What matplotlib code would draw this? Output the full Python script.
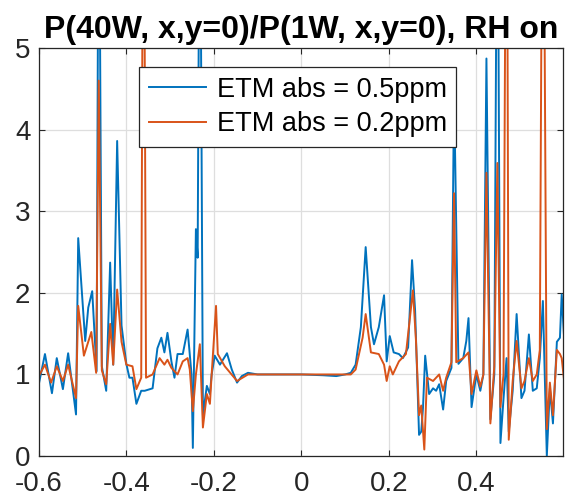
import matplotlib
matplotlib.use("Agg")
import matplotlib.pyplot as plt

plt.rcParams["font.family"] = ["Liberation Sans", "DejaVu Sans"]

# ETM abs = 0.5ppm
x_05 = [-0.602, -0.586, -0.570, -0.559, -0.545, -0.533, -0.515, -0.510, -0.494, -0.487,
        -0.478, -0.468, -0.463, -0.456, -0.446, -0.437, -0.430, -0.421, -0.411, -0.400,
        -0.393, -0.386, -0.377, -0.366, -0.358, -0.340, -0.329, -0.320, -0.313, -0.306,
        -0.297, -0.290, -0.283, -0.271, -0.260, -0.251, -0.248, -0.241, -0.237, -0.232,
        -0.225, -0.216, -0.209, -0.205, -0.198, -0.186, -0.170, -0.159, -0.147, -0.136,
        -0.122, -0.100, -0.050, 0.000, 0.050, 0.080, 0.100, 0.113, 0.124, 0.136,
        0.147, 0.159, 0.166, 0.177, 0.189, 0.195, 0.202, 0.211, 0.223, 0.232,
        0.244, 0.253, 0.260, 0.269, 0.274, 0.278, 0.283, 0.292, 0.301, 0.308,
        0.315, 0.324, 0.331, 0.343, 0.349, 0.359, 0.370, 0.377, 0.382, 0.389,
        0.400, 0.409, 0.416, 0.423, 0.432, 0.441, 0.448, 0.455, 0.462, 0.469,
        0.474, 0.483, 0.492, 0.503, 0.510, 0.520, 0.529, 0.538, 0.545, 0.552,
        0.561, 0.568, 0.575, 0.584, 0.591, 0.595, 0.600]
y_05 = [0.83, 1.25, 0.77, 1.20, 0.82, 1.26, 0.51, 2.67, 1.41, 1.82,
        2.02, 1.04, 8.00, 1.10, 0.80, 2.37, 1.12, 3.86, 1.60, 1.13,
        0.96, 0.96, 0.64, 0.80, 0.80, 0.83, 1.32, 1.45, 1.27, 1.51,
        1.16, 0.96, 1.25, 1.25, 1.55, 1.00, 0.10, 2.78, 2.43, 8.00,
        0.50, 0.86, 0.76, 1.00, 1.23, 1.12, 1.26, 1.06, 0.90, 0.98,
        1.02, 1.00, 1.00, 1.00, 0.99, 0.98, 1.00, 1.02, 1.12, 1.58,
        2.56, 1.58, 1.37, 1.58, 1.97, 1.16, 1.47, 1.27, 1.25, 1.20,
        1.33, 2.40, 1.78, 0.26, 0.30, 0.59, 1.23, 0.76, 0.83, 0.80,
        0.88, 0.57, 0.92, 1.08, 4.50, 1.13, 1.20, 1.41, 1.69, 0.60,
        1.00, 0.80, 1.00, 4.87, 0.45, 1.00, 8.00, 0.16, 0.70, 1.20,
        0.30, 0.80, 1.74, 0.71, 0.80, 1.49, 0.80, 0.83, 1.20, 1.90,
        0.00, 0.83, 0.40, 1.40, 1.45, 1.98, 1.50]

# ETM abs = 0.2ppm
x_02 = [-0.602, -0.586, -0.572, -0.559, -0.545, -0.533, -0.515, -0.510, -0.497, -0.480,
        -0.469, -0.463, -0.456, -0.446, -0.437, -0.430, -0.421, -0.411, -0.400, -0.386,
        -0.377, -0.366, -0.361, -0.355, -0.340, -0.324, -0.313, -0.306, -0.297, -0.283,
        -0.271, -0.260, -0.255, -0.248, -0.241, -0.232, -0.225, -0.216, -0.209, -0.205,
        -0.195, -0.191, -0.175, -0.147, -0.122, 0.000, 0.113, 0.124, 0.140, 0.147,
        0.159, 0.177, 0.189, 0.195, 0.202, 0.209, 0.223, 0.239, 0.255, 0.262,
        0.269, 0.274, 0.281, 0.287, 0.301, 0.315, 0.324, 0.331, 0.343, 0.349,
        0.354, 0.370, 0.382, 0.389, 0.400, 0.409, 0.416, 0.423, 0.432, 0.441,
        0.448, 0.455, 0.462, 0.469, 0.474, 0.483, 0.492, 0.503, 0.510, 0.520,
        0.529, 0.538, 0.545, 0.552, 0.561, 0.568, 0.575, 0.584, 0.591, 0.595,
        0.600]
y_02 = [0.96, 1.12, 0.90, 1.10, 0.92, 1.12, 0.71, 1.84, 1.23, 1.52,
        1.02, 4.60, 1.05, 0.88, 1.62, 1.12, 2.04, 1.40, 1.12, 1.10,
        0.82, 0.96, 9.00, 0.96, 1.00, 1.20, 1.12, 1.18, 1.08, 1.00,
        1.16, 1.20, 1.06, 0.55, 1.00, 1.37, 0.35, 0.76, 0.64, 1.00,
        1.84, 1.25, 1.10, 0.92, 1.00, 1.00, 1.00, 1.06, 1.45, 1.74,
        1.27, 1.25, 1.12, 0.92, 1.10, 1.00, 1.16, 1.25, 2.03, 1.41,
        0.50, 0.62, 0.08, 0.96, 0.92, 1.00, 0.80, 0.96, 1.15, 3.22,
        1.15, 1.20, 1.27, 0.76, 1.05, 0.85, 1.00, 3.47, 0.40, 1.10,
        3.59, 0.60, 1.00, 9.00, 0.20, 0.92, 1.41, 0.83, 0.92, 1.20,
        0.92, 1.00, 1.30, 9.00, 0.33, 0.90, 0.50, 1.30, 1.25, 1.20,
        0.95]

x_ticks = [-0.6, -0.4, -0.2, 0, 0.2, 0.4]
x_tick_labels = ["-0.6", "-0.4", "-0.2", "0", "0.2", "0.4"]
y_ticks = [0, 1, 2, 3, 4, 5]


def main():
    fig = plt.figure(figsize=(5.71, 4.99), dpi=100)
    ax = fig.add_axes([0.068, 0.086, 0.918, 0.818])

    ax.plot(x_05, y_05, color="#0072BD", lw=1.4, label="ETM abs = 0.5ppm")
    ax.plot(x_02, y_02, color="#D95319", lw=1.4, label="ETM abs = 0.2ppm")

    ax.set_xlim(-0.6, 0.598)
    ax.set_ylim(0, 5)
    ax.set_xticks(x_ticks)
    ax.set_xticklabels(x_tick_labels)
    ax.set_yticks(y_ticks)
    ax.grid(True, color="#dedede", lw=0.9)
    ax.set_axisbelow(True)
    ax.tick_params(direction="in", top=True, right=True, labelsize=20,
                   colors="#262626", length=4)
    ax.tick_params(axis="x", pad=11)
    ax.tick_params(axis="y", pad=6)
    for s in ax.spines.values():
        s.set_color("#262626")
        s.set_linewidth(0.9)

    ax.set_title("P(40W, x,y=0)/P(1W, x,y=0), RH on", fontsize=23,
                 fontweight="bold", pad=7)

    leg = ax.legend(loc="upper center", bbox_to_anchor=(0.494, 0.952),
                    fontsize=19.5, fancybox=False, framealpha=1,
                    edgecolor="#262626", handlelength=2.1, handletextpad=0.4,
                    borderpad=0.35, labelspacing=0.3, borderaxespad=0)
    leg.get_frame().set_linewidth(0.9)

    fig.savefig("out.png", dpi=100)


if __name__ == "__main__":
    main()
